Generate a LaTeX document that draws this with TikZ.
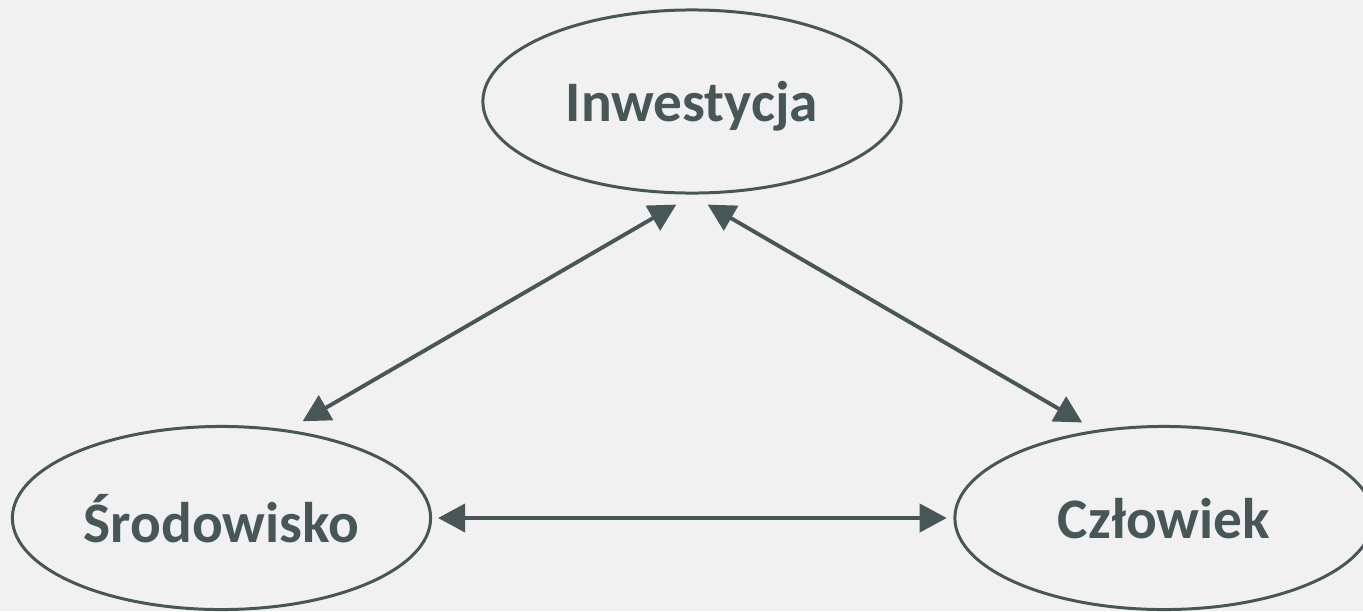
\documentclass[tikz,border=0pt]{standalone}
\usepackage{fontspec}
\setmainfont{Carlito}
\usetikzlibrary{arrows.meta,shapes.geometric}
\definecolor{SlateGrey}{HTML}{475757}
\definecolor{PaleGrey}{HTML}{F1F1F1}

\begin{document}
\begin{tikzpicture}[x=0.01cm, y=0.01cm,
  bubble/.style={ellipse, draw=SlateGrey, line width=0.85pt, inner sep=0pt,
    minimum width=4.18cm, minimum height=1.83cm, text depth=0pt,
    text=SlateGrey, font=\fontsize{16.3}{18}\selectfont\bfseries},
  link/.style={{Triangle[length=7.7pt, width=8pt]}-{Triangle[length=7.7pt, width=8pt]},
    draw=SlateGrey, line width=1.1pt}]
% Background and page size
\clip (0, 0) rectangle (1363, 611);
\fill[PaleGrey] (0, 0) rectangle (1363, 611);

% The three ellipses
\node[bubble] (inwestycja) at (692, 509.5) {Inwestycja};
\node[bubble] (srodowisko) at (221.5, 93) {Środowisko};
\node[bubble] (czlowiek) at (1164, 93) {Człowiek};

% Double-headed links between them
\draw[link, shorten <=5.7pt, shorten >=4.8pt] (inwestycja.271.4) -- (srodowisko.53.1);
\draw[link, shorten <=5.7pt, shorten >=4.3pt] (inwestycja.269.2) -- (czlowiek.128.1);
\draw[link, shorten <=1.7pt, shorten >=1.9pt] (srodowisko.east) -- (czlowiek.west);
\end{tikzpicture}
\end{document}
